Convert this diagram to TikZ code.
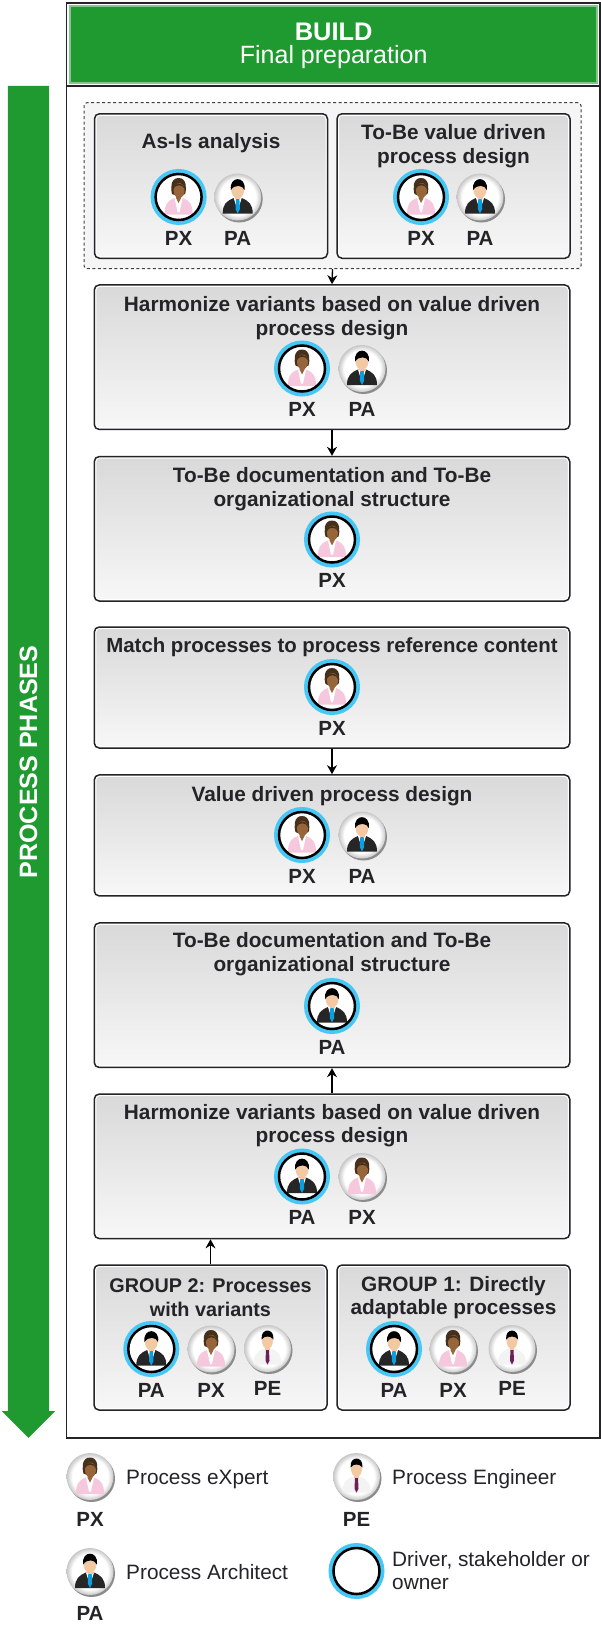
\documentclass[tikz,border=0pt]{standalone}
\usepackage{fontspec}
\setmainfont{Liberation Sans}
\usetikzlibrary{arrows.meta, positioning, shapes.arrows}
\definecolor{buildgreen}{HTML}{1F9A30}
\definecolor{ringblue}{HTML}{45C8F5}
\definecolor{boxdark}{HTML}{232428}
\definecolor{skin}{HTML}{F2C9A2}
\definecolor{brownskin}{HTML}{96663A}
\definecolor{brownhair}{HTML}{46301C}
\definecolor{jacketpink}{HTML}{F6C8DE}
\definecolor{tieblue}{HTML}{0A9FE0}
\definecolor{tieplum}{HTML}{6E1F58}
\definecolor{shirtgray}{HTML}{F3F3F3}
\pgfdeclareradialshading{ballshade}{\pgfpoint{0bp}{0bp}}{color(0bp)=(white); color(19bp)=(white); color(25bp)=(black!22); color(50bp)=(black!22)}

% figures inside the round icons, y runs downwards
\newcommand{\paperson}{%
	\fill[black!85] (-15,16.5) .. controls (-15,7) and (-11,4) .. (-4,1) -- (4,1) .. controls (11,4) and (15,7) .. (15,16.5) -- cycle;
	\fill[white] (-4,1) -- (4,1) -- (0,14) -- cycle;
	\fill[tieblue] (-1.7,2) -- (1.7,2) -- (2.2,12) -- (0,16.5) -- (-2.2,12) -- cycle;
	\fill[skin] (-2.5,-4) rectangle (2.5,2);
	\fill[skin] (0,-7.5) ellipse (6.5 and 9);
	\fill[black] (-6.8,-7) .. controls (-9,-21.5) and (9,-21.5) .. (6.8,-7) .. controls (5,-12) and (-3,-13) .. (-6.8,-7) -- cycle;
}
\newcommand{\pxperson}{%
	\fill[jacketpink] (-14,17.5) .. controls (-14,8) and (-12,4) .. (-4,1) -- (4,1) .. controls (12,4) and (14,8) .. (14,17.5) -- cycle;
	\fill[white] (-4,1) -- (4,1) -- (1,15) -- (-1,15) -- cycle;
	\fill[brownskin] (-2.5,-4) -- (2.5,-4) -- (2.5,1) -- (0,6) -- (-2.5,1) -- cycle;
	\fill[brownhair] (0,-19) .. controls (8.5,-19) and (8,-8) .. (6.5,-3) .. controls (4,-1) and (-4,-1) .. (-6.5,-3) .. controls (-8,-8) and (-8.5,-19) .. (0,-19) -- cycle;
	\fill[brownskin] (0.5,-6.5) ellipse (5.5 and 7.5);
	\fill[brownhair] (-5.8,-8) .. controls (-5,-15) and (4,-16) .. (6.2,-8) .. controls (3,-13) and (-2,-13) .. (-5.8,-8) -- cycle;
}
\newcommand{\peperson}{%
	\fill[shirtgray] (-14,16) .. controls (-14,6) and (-11,3) .. (-3,0) -- (3,0) .. controls (11,3) and (14,6) .. (14,16) -- cycle;
	\fill[tieplum] (-1.5,1.5) -- (1.5,1.5) -- (2,12) -- (0,16) -- (-2,12) -- cycle;
	\fill[skin] (-2.2,-4) rectangle (2.2,1);
	\fill[skin] (0,-8) ellipse (5.5 and 8.5);
	\fill[black] (-5.8,-9) .. controls (-7.5,-21) and (7.5,-21) .. (5.8,-9) .. controls (4,-13) and (-4,-13) .. (-5.8,-9) -- cycle;
}

\begin{document}
\begin{tikzpicture}[
		x=1pt, y=-1pt,
		>={Stealth[length=9pt, width=10pt]},
		framebox/.style={rectangle, draw=boxdark, line width=1.6pt, inner sep=0pt},
		stepbox/.style={rectangle, draw=boxdark, line width=1.5pt, rounded corners=5pt, top color=black!15, bottom color=black!3, inner sep=0pt, minimum height=144.5pt,
			path picture={\draw[white, line width=4pt, rounded corners=5pt] (path picture bounding box.north west) rectangle (path picture bounding box.south east);}},
		widebox/.style={stepbox, minimum width=475.5pt},
		halfbox/.style={stepbox, minimum width=233pt},
		boxtitle/.style={font=\fontsize{20.8}{23.4}\bfseries\selectfont, text=boxdark, align=center, inner sep=0pt},
		rolename/.style={font=\fontsize{20.5}{20.5}\bfseries\selectfont, text=boxdark, inner sep=0pt},
		legendtext/.style={font=\fontsize{20.8}{23}\selectfont, text=boxdark, align=left, anchor=west, inner sep=0pt},
		ball/.style={circle, inner sep=0pt, outer sep=0pt, minimum size=47pt, shade, shading=ballshade, preaction={fill=black!45, transform canvas={xshift=1.5pt, yshift=-2pt}}},
		ringed/.style={circle, inner sep=0pt, outer sep=0pt, minimum size=46pt, fill=white, draw=black, line width=2.5pt, preaction={draw=ringblue, line width=10pt}},
		paicon/.style={path picture={\begin{scope}[shift={(path picture bounding box.center)}]\paperson\end{scope}}},
		pxicon/.style={path picture={\begin{scope}[shift={(path picture bounding box.center)}]\pxperson\end{scope}}},
		peicon/.style={path picture={\begin{scope}[shift={(path picture bounding box.center)}]\peperson\end{scope}}},
		link/.style={->, black, line width=1.3pt}
		]
		\useasboundingbox (0,0) rectangle (601,1625);
		
		% Frame and header
		\node[framebox, minimum width=533.5pt, minimum height=1435pt] (frame) at (333.2, 720.2) {};
		\node[framebox, minimum width=533.5pt, minimum height=83.3pt] (headframe) at (333.2, 44.3) {};
		\node[rectangle, fill=buildgreen, draw=buildgreen!55!white, line width=2pt, minimum width=527pt, minimum height=77pt, inner sep=0pt] (head) at (333.2, 44.3) {};
		\node[font=\fontsize{25.4}{27}\bfseries\selectfont, text=white, inner sep=0pt] (headtitle) at (333.7, 32) {BUILD};
		\node[font=\fontsize{25}{27}\selectfont, text=white, inner sep=0pt] (headsub) at (333.7, 57) {Final preparation};
		
		% Phase arrow
		\node[single arrow, rotate=-90, fill=buildgreen, single arrow head extend=6pt, minimum width=53pt, minimum height=1352pt, inner xsep=0pt, inner ysep=20.5pt, outer sep=0pt] (phases) at (28.5, 751.5) {};
		\node[rotate=90, font=\fontsize{25.1}{25}\bfseries\selectfont, text=white, inner sep=0pt] (phasestext) at (28.5, 762) {PROCESS PHASES};
		
		% Top group
		\node[rectangle, draw=black!75, dash pattern=on 3pt off 2.5pt, fill=black!4, line width=1pt, rounded corners=3pt, minimum width=497pt, minimum height=166pt, inner sep=0pt] (topgroup) at (332.5, 185.7) {};
		\node[halfbox] (asis) at (211, 186) {};
		\node[boxtitle] (asistitle) at (211, 143.3) {As-Is analysis};
		\node[ringed, pxicon] (asispx) at (178.6, 197) {};
		\node[ball, paicon] (asispa) at (237.7, 197) {};
		\node[rolename, below=34pt of asispx.center] (asispxname) {PX};
		\node[rolename, below=34pt of asispa.center] (asispaname) {PA};
		\node[halfbox] (tobe) at (453.5, 186) {};
		\node[boxtitle] (tobetitle) at (453.5, 146) {To-Be value driven\\process design};
		\node[ringed, pxicon] (tobepx) at (421, 197) {};
		\node[ball, paicon] (tobepa) at (480, 197) {};
		\node[rolename, below=34pt of tobepx.center] (tobepxname) {PX};
		\node[rolename, below=34pt of tobepa.center] (tobepaname) {PA};
		
		% Harmonize, first
		\node[widebox] (harm) at (332, 357.2) {};
		\node[boxtitle] (harmtitle) at (332, 318) {Harmonize variants based on value driven\\process design};
		\node[ringed, pxicon] (harmpx) at (302, 368.5) {};
		\node[ball, paicon] (harmpa) at (362, 368.5) {};
		\node[rolename, below=34pt of harmpx.center] (harmpxname) {PX};
		\node[rolename, below=34pt of harmpa.center] (harmpaname) {PA};
		
		% To-Be documentation, first
		\node[widebox] (doc) at (332, 528.8) {};
		\node[boxtitle] (doctitle) at (332, 489.3) {To-Be documentation and To-Be\\organizational structure};
		\node[ringed, pxicon] (docpx) at (332, 539.5) {};
		\node[rolename, below=34pt of docpx.center] (docpxname) {PX};
		
		% Match
		\node[widebox, minimum height=121pt] (match) at (332, 687.5) {};
		\node[boxtitle, font=\fontsize{20.4}{23.4}\bfseries\selectfont] (matchtitle) at (332, 647.7) {Match processes to process reference content};
		\node[ringed, pxicon] (matchpx) at (332, 687) {};
		\node[rolename, below=34pt of matchpx.center] (matchpxname) {PX};
		
		% Value driven
		\node[widebox, minimum height=121pt] (value) at (332, 835.4) {};
		\node[boxtitle] (valuetitle) at (332, 795.9) {Value driven process design};
		\node[ringed, pxicon] (valuepx) at (302, 835) {};
		\node[ball, paicon] (valuepa) at (362, 835) {};
		\node[rolename, below=34pt of valuepx.center] (valuepxname) {PX};
		\node[rolename, below=34pt of valuepa.center] (valuepaname) {PA};
		
		% To-Be documentation, second
		\node[widebox] (doctwo) at (332, 995.2) {};
		\node[boxtitle] (doctwotitle) at (332, 954.3) {To-Be documentation and To-Be\\organizational structure};
		\node[ringed, paicon] (doctwopa) at (332, 1006) {};
		\node[rolename, below=34pt of doctwopa.center] (doctwopaname) {PA};
		
		% Harmonize, second
		\node[widebox] (harmtwo) at (332, 1166.3) {};
		\node[boxtitle] (harmtwotitle) at (332, 1125.8) {Harmonize variants based on value driven\\process design};
		\node[ringed, paicon] (harmtwopa) at (302, 1176.5) {};
		\node[ball, pxicon] (harmtwopx) at (362, 1176.5) {};
		\node[rolename, below=34pt of harmtwopa.center] (harmtwopaname) {PA};
		\node[rolename, below=34pt of harmtwopx.center] (harmtwopxname) {PX};
		
		% Groups
		\node[halfbox, minimum height=145pt] (grouptwo) at (210.5, 1337.5) {};
		\node[boxtitle, font=\fontsize{19.8}{23.4}\bfseries\selectfont] (grouptwotitle) at (210.5, 1297.6) {GROUP 2: Processes\\with variants};
		\node[ringed, paicon] (grouptwopa) at (151.3, 1349) {};
		\node[ball, pxicon] (grouptwopx) at (211, 1349) {};
		\node[ball, peicon] (grouptwope) at (267.5, 1348.5) {};
		\node[rolename, below=34pt of grouptwopa.center] (grouptwopaname) {PA};
		\node[rolename, below=34pt of grouptwopx.center] (grouptwopxname) {PX};
		\node[rolename, below=33pt of grouptwope.center] (grouptwopename) {PE};
		\node[halfbox, minimum height=145pt] (groupone) at (453.5, 1337.5) {};
		\node[boxtitle] (grouponetitle) at (453.5, 1297.6) {GROUP 1: Directly\\adaptable processes};
		\node[ringed, paicon] (grouponepa) at (394, 1349) {};
		\node[ball, pxicon] (grouponepx) at (453, 1349) {};
		\node[ball, peicon] (grouponepe) at (512, 1348.5) {};
		\node[rolename, below=34pt of grouponepa.center] (grouponepaname) {PA};
		\node[rolename, below=34pt of grouponepx.center] (grouponepxname) {PX};
		\node[rolename, below=33pt of grouponepe.center] (grouponepename) {PE};
		
		% Arrows between boxes
		\draw[link] (topgroup.south) -- (harm.north);
		\draw[link] (harm.south) -- (doc.north);
		\draw[link] (match.south) -- (value.north);
		\draw[link] (harmtwo.north) -- (doctwo.south);
		\draw[link] (grouptwo.north) -- (grouptwo.north |- harmtwo.south);
		
		% Legend
		\node[ball, pxicon] (legpx) at (90, 1476.5) {};
		\node[rolename, below=36pt of legpx.center] (legpxname) {PX};
		\node[legendtext] (legpxtext) at (126, 1479) {Process eXpert};
		\node[ball, peicon] (legpe) at (356.5, 1476.5) {};
		\node[rolename, below=36pt of legpe.center] (legpename) {PE};
		\node[legendtext] (legpetext) at (392, 1479) {Process Engineer};
		\node[ball, paicon] (legpa) at (90, 1571.5) {};
		\node[rolename, below=35pt of legpa.center] (legpaname) {PA};
		\node[legendtext] (legpatext) at (126, 1572) {Process Architect};
		\node[ringed] (legring) at (356.5, 1571) {};
		\node[legendtext] (legringtext) at (392, 1571) {Driver, stakeholder or\\owner};
		
	\end{tikzpicture}
\end{document}
